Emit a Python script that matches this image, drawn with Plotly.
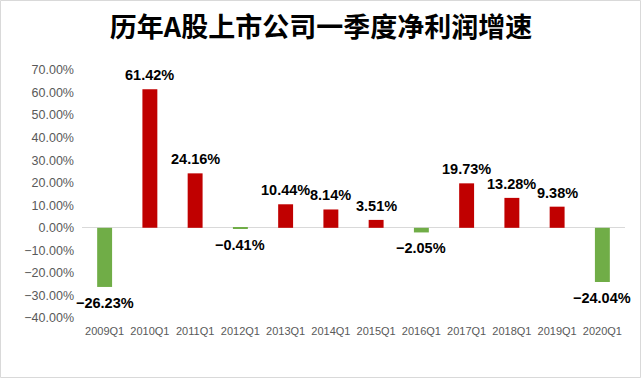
import plotly.graph_objects as go

categories = ["2009Q1", "2010Q1", "2011Q1", "2012Q1", "2013Q1", "2014Q1",
              "2015Q1", "2016Q1", "2017Q1", "2018Q1", "2019Q1", "2020Q1"]
growth = [-26.23, 61.42, 24.16, -0.41, 10.44, 8.14, 3.51, -2.05, 19.73, 13.28, 9.38, -24.04]
tick_vals = [70, 60, 50, 40, 30, 20, 10, 0, -10, -20, -30, -40]
tick_text = ["70.00%", "60.00%", "50.00%", "40.00%", "30.00%", "20.00%", "10.00%",
             "0.00%", "\u221210.00%", "\u221220.00%", "\u221230.00%", "\u221240.00%"]

RED = "#C00000"
GREEN = "#70AD47"
colors = [RED if v >= 0 else GREEN for v in growth]

W, H = 642, 379
L, R, T, B = 82, 17, 70, 61

fig = go.Figure()
fig.add_trace(go.Bar(
    x=categories, y=growth, marker_color=colors, marker_line_width=0,
    hoverinfo="x+y",
))

for c, v in zip(categories, growth):
    label = (f"{v:.2f}%" if v >= 0 else f"\u2212{abs(v):.2f}%")
    fig.add_annotation(
        x=c, y=v, text=f"<b>{label}</b>", showarrow=False,
        yanchor="bottom" if v >= 0 else "top",
        yshift=4 if v >= 0 else -6,
        font=dict(family="Liberation Sans, Arial", size=14.5, color="#000000"),
    )

pw = W - L - R
ph = H - T - B
fig.add_shape(type="rect", xref="paper", yref="paper",
              x0=-(L - 0.5) / pw, x1=1 + (R - 1.5) / pw,
              y0=-(B - 1.5) / ph, y1=1 + (T - 0.5) / ph,
              line=dict(color="#D9D9D9", width=1), fillcolor="rgba(0,0,0,0)", layer="below")

fig.update_layout(
    width=W, height=H,
    margin=dict(l=L, r=R, t=T, b=B, autoexpand=False),
    paper_bgcolor="white", plot_bgcolor="white",
    showlegend=False,
    bargap=0.67,
    title=dict(text="<b>历年A股上市公司一季度净利润增速</b>", x=0.5, xanchor="center",
               y=1 - 28 / H, yanchor="middle", yref="container",
               font=dict(family="Noto Sans CJK SC", size=27, color="#000000")),
    xaxis=dict(showgrid=False, showline=False, ticks="", zeroline=False, automargin=False,
               range=[-0.5, len(categories) - 0.5], autorange=False,
               tickfont=dict(family="Liberation Sans, Arial", size=11, color="#595959"),
               ticklabelstandoff=5, fixedrange=True),
    yaxis=dict(range=[-40, 70], tickvals=tick_vals, ticktext=tick_text, automargin=False,
               showgrid=False, showline=False, ticks="",
               zeroline=True, zerolinecolor="#D9D9D9", zerolinewidth=1,
               tickfont=dict(family="Liberation Sans, Arial", size=12.5, color="#595959"),
               ticklabelstandoff=7, fixedrange=True),
)

fig.write_html("out.html", config={"displayModeBar": False},
               post_script="document.body.style.margin='0';document.body.style.overflow='hidden';")
